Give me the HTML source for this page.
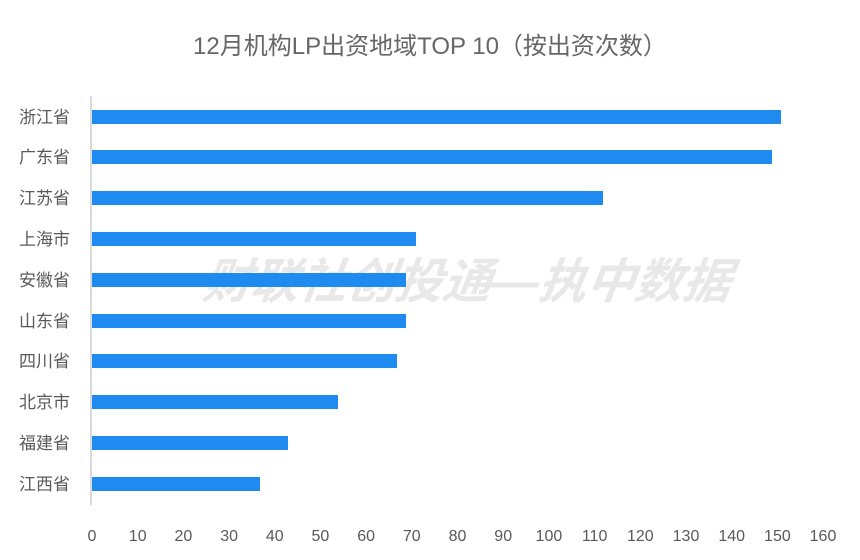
<!DOCTYPE html>
<html><head><meta charset="utf-8"><style>body{margin:0;background:#fff}svg{display:block}</style></head><body>
<svg width="860" height="560" xmlns="http://www.w3.org/2000/svg" font-family="'Liberation Sans','Noto Sans CJK SC',sans-serif">
<rect width="860" height="560" fill="#fff"/>
<text x="430" y="54" text-anchor="middle" font-size="24" fill="#666">12月机构LP出资地域TOP 10（按出资次数）</text>
<text x="465" y="298" text-anchor="middle" font-size="48" font-weight="bold" font-style="italic" fill="#e8e8e8" transform="translate(42,0) skewX(-8)">财联社创投通—执中数据</text>
<line x1="91" y1="96" x2="91" y2="505" stroke="#d9d9d9" stroke-width="2"/>
<g fill="#1f8af0">
<rect x="92" y="110" width="689" height="14"/>
<rect x="92" y="150" width="680" height="14"/>
<rect x="92" y="191" width="511" height="14"/>
<rect x="92" y="232" width="324" height="14"/>
<rect x="92" y="273" width="314" height="14"/>
<rect x="92" y="314" width="314" height="14"/>
<rect x="92" y="354" width="305" height="14"/>
<rect x="92" y="395" width="246" height="14"/>
<rect x="92" y="436" width="196" height="14"/>
<rect x="92" y="477" width="168" height="14"/>
</g>
<g font-size="17" fill="#595959" text-anchor="end">
<text x="70" y="123">浙江省</text>
<text x="70" y="163">广东省</text>
<text x="70" y="204">江苏省</text>
<text x="70" y="245">上海市</text>
<text x="70" y="286">安徽省</text>
<text x="70" y="327">山东省</text>
<text x="70" y="367">四川省</text>
<text x="70" y="408">北京市</text>
<text x="70" y="449">福建省</text>
<text x="70" y="490">江西省</text>
</g>
<g font-size="16" fill="#595959" text-anchor="middle">
<text x="92" y="541">0</text>
<text x="137.7" y="541">10</text>
<text x="183.4" y="541">20</text>
<text x="229.1" y="541">30</text>
<text x="274.8" y="541">40</text>
<text x="320.4" y="541">50</text>
<text x="366.1" y="541">60</text>
<text x="411.8" y="541">70</text>
<text x="457.5" y="541">80</text>
<text x="503.2" y="541">90</text>
<text x="548.9" y="541">100</text>
<text x="594.6" y="541">110</text>
<text x="640.3" y="541">120</text>
<text x="686" y="541">130</text>
<text x="731.7" y="541">140</text>
<text x="777.4" y="541">150</text>
<text x="823" y="541">160</text>
</g>
</svg>
</body></html>
